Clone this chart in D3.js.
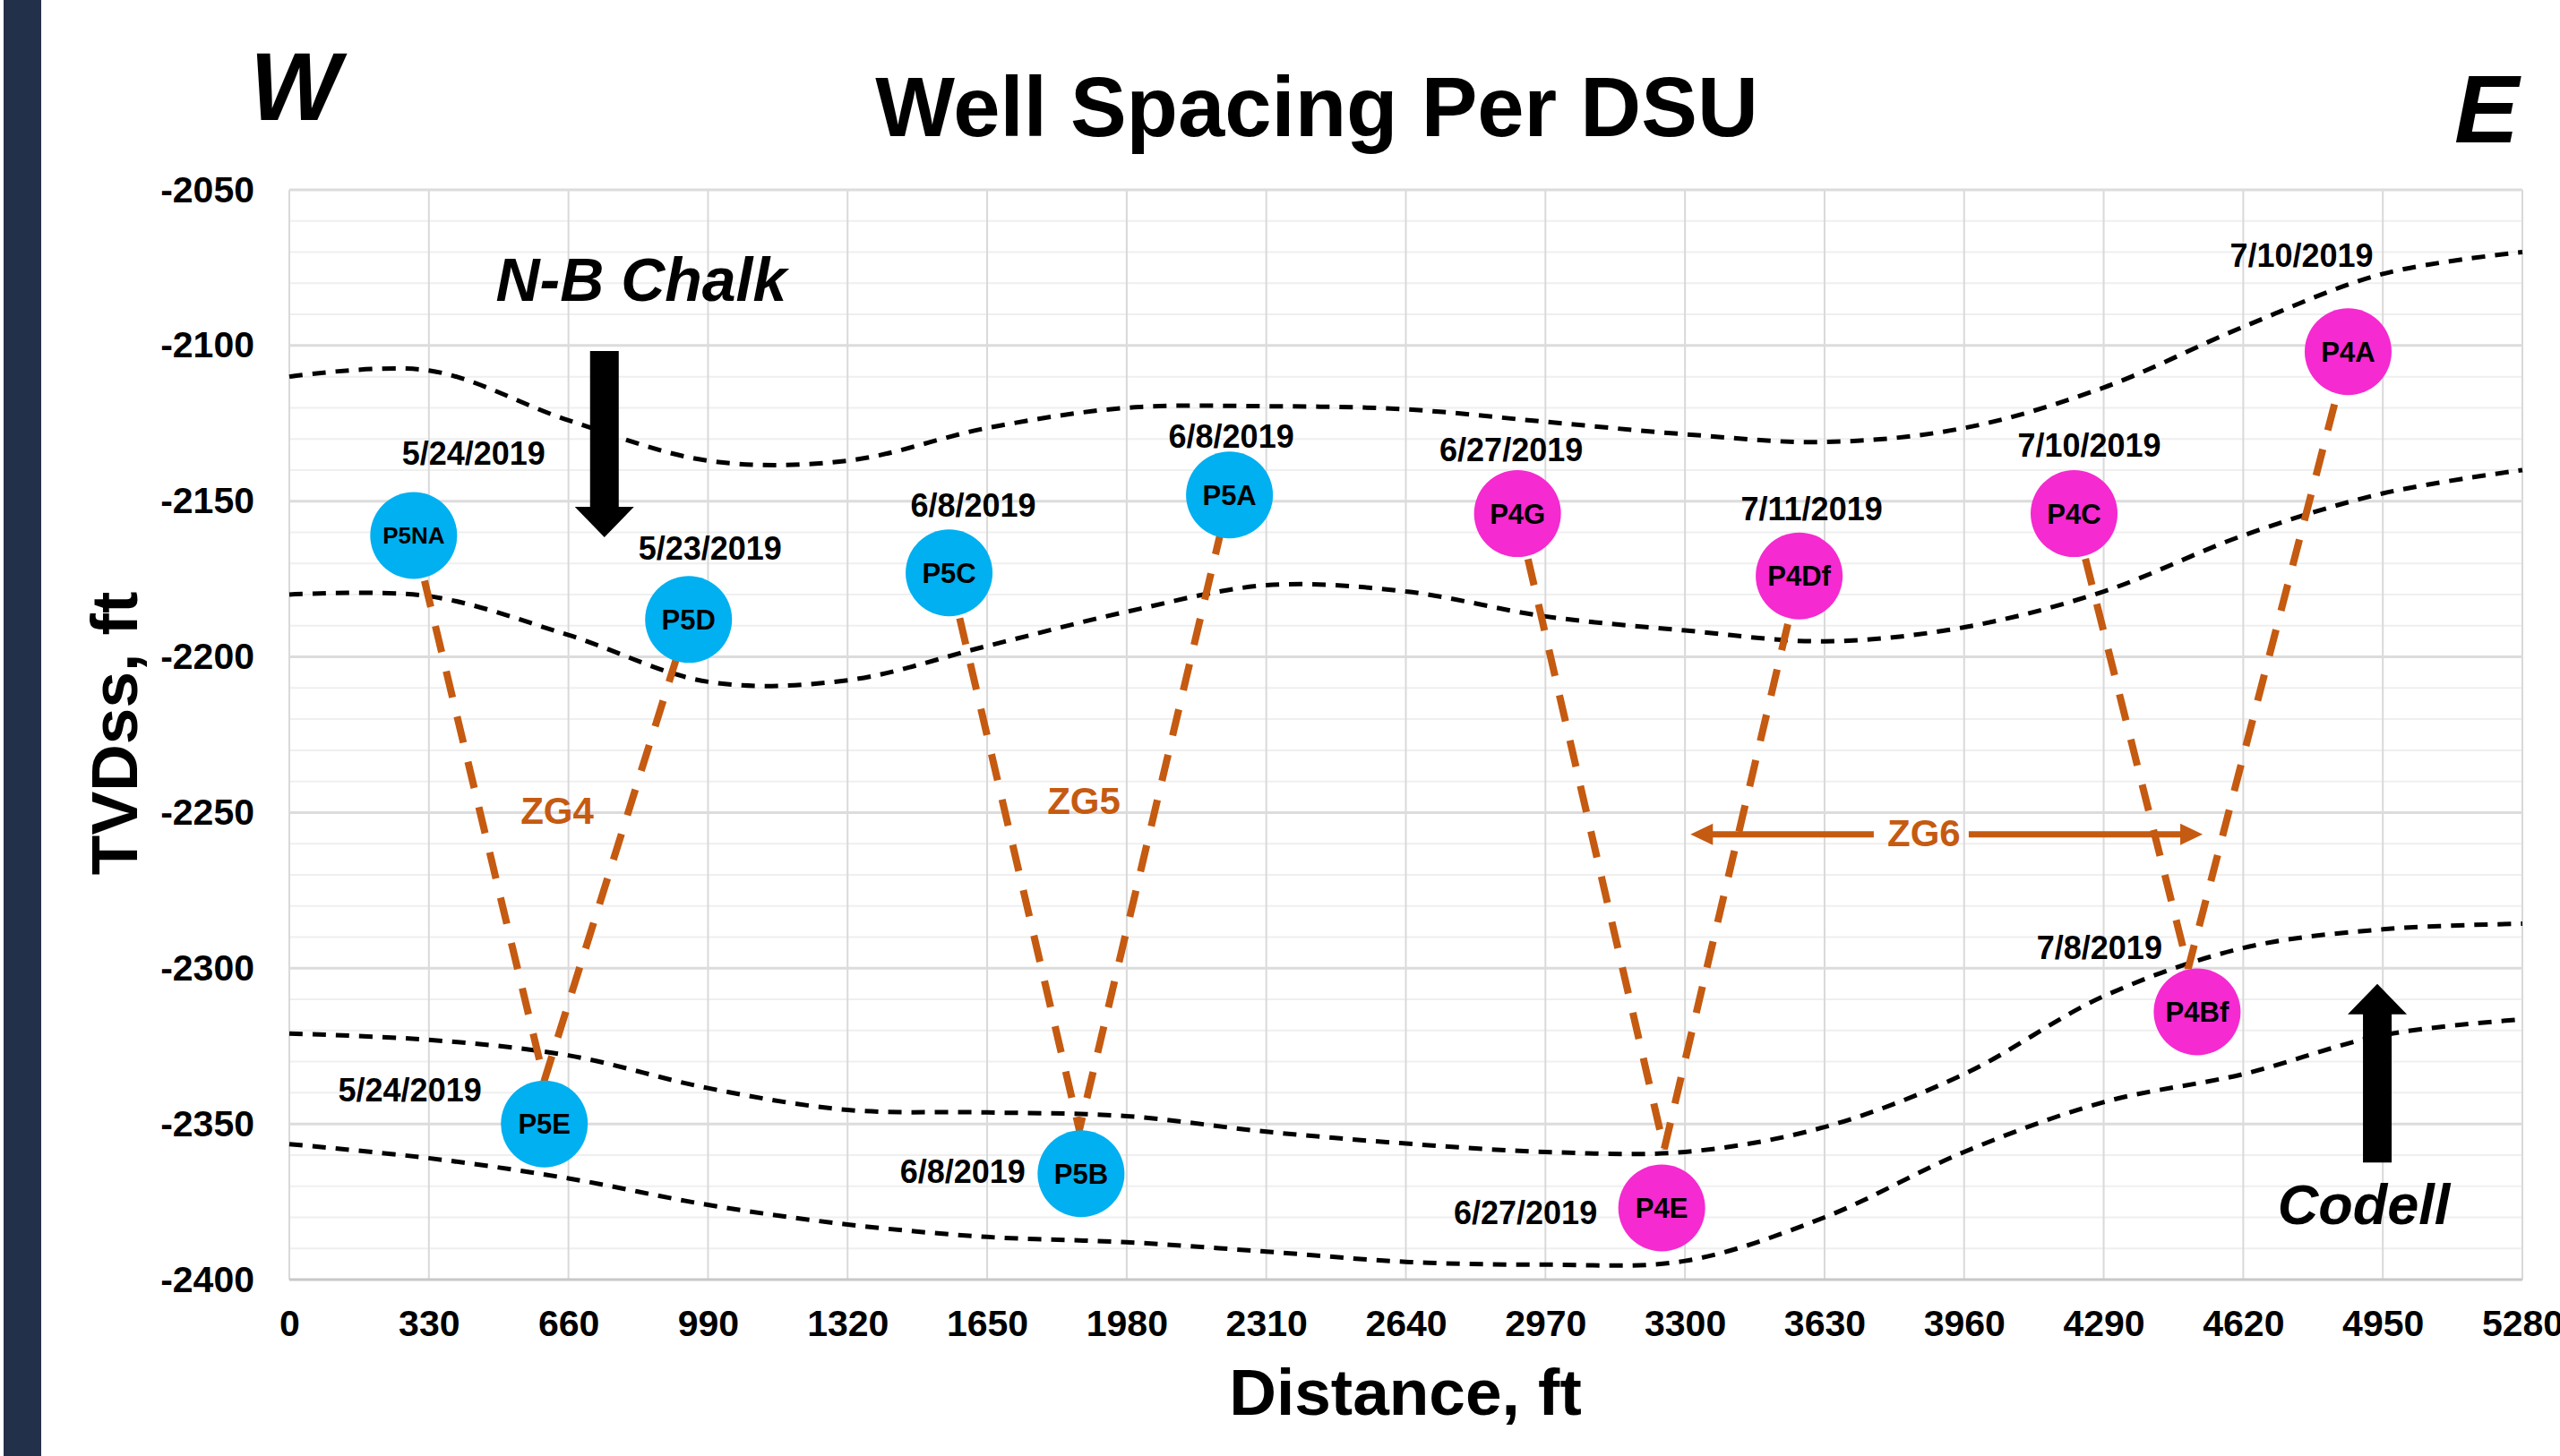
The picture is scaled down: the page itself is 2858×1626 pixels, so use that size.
<!DOCTYPE html>
<html>
<head>
<meta charset="utf-8">
<script src="https://cdn.jsdelivr.net/npm/d3@7"></script>
<style>
  body { margin: 0; background: #ffffff; }
  text { font-family: "Liberation Sans", Arial, sans-serif; font-weight: bold; }
</style>
</head>
<body>
<div id="chart"></div>
<script>

// Axis ticks
var xTicks = [0, 330, 660, 990, 1320, 1650, 1980, 2310, 2640, 2970, 3300, 3630, 3960, 4290, 4620, 4950, 5280];
var yTicks = [-2050, -2100, -2150, -2200, -2250, -2300, -2350, -2400];

// Wells (distance ft, TVDss ft)
var wellNames = ["P5NA", "P5E", "P5D", "P5C", "P5B", "P5A", "P4G", "P4E", "P4Df", "P4C", "P4Bf", "P4A"];
var wellX = [294, 603, 944, 1560, 1872, 2223, 2904, 3245, 3570, 4220, 4511, 4868];
var wellY = [-2161, -2350, -2188, -2173, -2366, -2148, -2154, -2377, -2174, -2154, -2314, -2102];
var wellDates = ["5/24/2019", "5/24/2019", "5/23/2019", "6/8/2019", "6/8/2019", "6/8/2019",
                 "6/27/2019", "6/27/2019", "7/11/2019", "7/10/2019", "7/8/2019", "7/10/2019"];
var wellPad = [5, 5, 5, 5, 5, 5, 4, 4, 4, 4, 4, 4];

// Formation tops, read every 330 ft
var horizonX = [0, 330, 660, 990, 1320, 1650, 1980, 2310, 2640, 2970, 3300, 3630, 3960, 4290, 4620, 4950, 5280];
var nbChalkTop = [-2110, -2108, -2124, -2137, -2137, -2126.5, -2120, -2119.5, -2120.5, -2124.5, -2128.5, -2131, -2126.5, -2113.5, -2094, -2077, -2070];
var nbChalkBase = [-2180, -2180.5, -2193, -2208, -2207.5, -2196.5, -2185.5, -2177, -2179, -2187, -2191.5, -2195, -2190.5, -2179, -2161, -2147.5, -2140];
var codellTop = [-2321, -2323, -2328, -2338.5, -2345.5, -2346.3, -2347.5, -2352.5, -2356.3, -2359, -2359, -2351, -2334, -2309, -2293.5, -2287.5, -2285.7];
var codellBase = [-2356.5, -2361, -2367.5, -2376, -2382.3, -2386.3, -2388, -2391, -2394.3, -2395.2, -2394, -2380, -2359, -2343, -2334, -2321.5, -2316.4];

// Zipper groups: upper well -> lower point -> upper well
var zipFrom = ["P5NA", "P5C", "P4G", "P4C"];
var zipTo = ["P5D", "P5A", "P4Df", "P4A"];
var zipLowX = [603, 1868, 3251, 4490];
var zipLowY = [-2336, -2352, -2358, -2300];

// Placement of the date labels relative to each bubble [dx, dy, anchor]
var dateOffsets = [[67, -79, "middle"], [-70, -25, "end"], [24, -67, "middle"], [27, -63, "middle"],
                   [-62, 10, "end"], [2, -53, "middle"], [-7, -59, "middle"], [-72, 18, "end"],
                   [14, -62, "middle"], [17, -64, "middle"], [-39, -59, "end"], [-52, -95, "middle"]];

var padColors = { 5: "#00b0f0", 4: "#f52ad0" };
var orange = "#c55a11";

var width = 2858, height = 1626;

var svg = d3.select("#chart").append("svg")
    .attr("width", width)
    .attr("height", height);

svg.append("rect").attr("width", width).attr("height", height).attr("fill", "#ffffff");

// dark strip on the left of the slide
svg.append("rect").attr("x", 4).attr("y", 0).attr("width", 42).attr("height", height).attr("fill", "#233049");

var x = d3.scaleLinear().domain([0, 5280]).range([323, 2816]);
var y = d3.scaleLinear().domain([-2400, -2050]).range([1429, 212]);

// Gridlines
var grid = svg.append("g");
grid.selectAll(".minor")
    .data(d3.range(-2400, -2049, 10).filter(function(d) { return d % 50 !== 0; }))
    .enter().append("line")
    .attr("x1", x(0)).attr("x2", x(5280))
    .attr("y1", function(d) { return y(d); }).attr("y2", function(d) { return y(d); })
    .attr("stroke", "#efefef").attr("stroke-width", 2);

grid.selectAll(".vert")
    .data(xTicks)
    .enter().append("line")
    .attr("x1", function(d) { return x(d); }).attr("x2", function(d) { return x(d); })
    .attr("y1", y(-2050)).attr("y2", y(-2400))
    .attr("stroke", "#d9d9d9").attr("stroke-width", 2);

grid.selectAll(".major")
    .data(yTicks)
    .enter().append("line")
    .attr("x1", x(0)).attr("x2", x(5280))
    .attr("y1", function(d) { return y(d); }).attr("y2", function(d) { return y(d); })
    .attr("stroke", function(d) { return d === -2400 ? "#c8c8c8" : "#dcdcdc"; })
    .attr("stroke-width", 3);

// Axes (plain hyphen, no thousands separator)
var plain = function(d) { return String(d); };
var yAxis = svg.append("g")
    .attr("transform", "translate(" + x(0) + ",0)")
    .call(d3.axisLeft(y).tickValues(yTicks).tickFormat(plain).tickSize(0).tickPadding(39));
var xAxis = svg.append("g")
    .attr("transform", "translate(0," + y(-2400) + ")")
    .call(d3.axisBottom(x).tickValues(xTicks).tickFormat(plain).tickSize(0).tickPadding(34));
[yAxis, xAxis].forEach(function(a) {
    a.select(".domain").remove();
    a.selectAll("text")
        .attr("font-family", "Liberation Sans, Arial, sans-serif")
        .attr("font-size", 41)
        .attr("font-weight", "bold")
        .attr("fill", "#000");
});

// Formation boundaries
var horizon = d3.line()
    .x(function(d) { return x(d[0]); })
    .y(function(d) { return y(d[1]); })
    .curve(d3.curveCatmullRom.alpha(0.5));

[nbChalkTop, nbChalkBase, codellTop, codellBase].forEach(function(series) {
    svg.append("path")
        .datum(horizonX.map(function(h, i) { return [h, series[i]]; }))
        .attr("d", horizon)
        .attr("fill", "none")
        .attr("stroke", "#000")
        .attr("stroke-width", 5)
        .attr("stroke-dasharray", "15,11");
});

// Zipper V lines
function wellAt(name) {
    var i = wellNames.indexOf(name);
    return [wellX[i], wellY[i]];
}
var zipLine = d3.line()
    .x(function(d) { return x(d[0]); })
    .y(function(d) { return y(d[1]); });

zipFrom.forEach(function(from, i) {
    svg.append("path")
        .datum([wellAt(from), [zipLowX[i], zipLowY[i]], wellAt(zipTo[i])])
        .attr("d", zipLine)
        .attr("fill", "none")
        .attr("stroke", orange)
        .attr("stroke-width", 8)
        .attr("stroke-dasharray", "30,22");
});

// Wells
var wells = svg.selectAll(".well")
    .data(wellNames)
    .enter().append("g")
    .attr("transform", function(d, i) { return "translate(" + x(wellX[i]) + "," + y(wellY[i]) + ")"; });

wells.append("circle")
    .attr("r", 48.5)
    .attr("fill", function(d, i) { return padColors[wellPad[i]]; });

wells.append("text")
    .attr("text-anchor", "middle")
    .attr("dy", "0.36em")
    .attr("font-size", function(d) { return d === "P5NA" ? 26 : 31; })
    .text(function(d) { return d; });

wells.append("text")
    .attr("x", function(d, i) { return dateOffsets[i][0]; })
    .attr("y", function(d, i) { return dateOffsets[i][1]; })
    .attr("text-anchor", function(d, i) { return dateOffsets[i][2]; })
    .attr("font-size", 36)
    .text(function(d, i) { return wellDates[i]; });

// Zone labels
var zoneLabels = [["ZG4", 622, 920], ["ZG5", 1210, 909]];
zoneLabels.forEach(function(z) {
    svg.append("text")
        .attr("x", z[1]).attr("y", z[2])
        .attr("text-anchor", "middle")
        .attr("font-size", 42)
        .attr("fill", orange)
        .text(z[0]);
});

// ZG6 double arrow
var zgY = y(-2257), zgLeft = x(3313), zgRight = x(4524), zgMid = x(3865);
svg.append("text")
    .attr("x", zgMid).attr("y", zgY + 13)
    .attr("text-anchor", "middle")
    .attr("font-size", 42)
    .attr("fill", orange)
    .text("ZG6");
svg.append("line").attr("x1", zgLeft + 20).attr("x2", zgMid - 56).attr("y1", zgY).attr("y2", zgY)
    .attr("stroke", orange).attr("stroke-width", 7);
svg.append("line").attr("x1", zgMid + 50).attr("x2", zgRight - 20).attr("y1", zgY).attr("y2", zgY)
    .attr("stroke", orange).attr("stroke-width", 7);
svg.append("path").attr("d", "M" + zgLeft + "," + zgY + "l25,-12v24z").attr("fill", orange);
svg.append("path").attr("d", "M" + zgRight + "," + zgY + "l-25,-12v24z").attr("fill", orange);

// Block arrows pointing at the targets
function blockArrow(cx, yTail, yTip) {
    var dir = yTip > yTail ? 1 : -1;
    var headBase = yTip - dir * 34;
    var p = d3.path();
    p.moveTo(cx - 16, yTail);
    p.lineTo(cx + 16, yTail);
    p.lineTo(cx + 16, headBase);
    p.lineTo(cx + 33, headBase);
    p.lineTo(cx, yTip);
    p.lineTo(cx - 33, headBase);
    p.lineTo(cx - 16, headBase);
    p.closePath();
    svg.append("path").attr("d", p.toString()).attr("fill", "#000");
}
blockArrow(x(745), y(-2101.8), y(-2161.6));
blockArrow(x(4937), y(-2362.4), y(-2305));

svg.append("text")
    .attr("x", x(488)).attr("y", y(-2085.7))
    .attr("font-size", 68)
    .attr("font-style", "italic")
    .text("N-B Chalk");

svg.append("text")
    .attr("x", x(4905)).attr("y", y(-2382.2))
    .attr("text-anchor", "middle")
    .attr("font-family", "Lato, sans-serif")
    .attr("font-size", 63)
    .attr("font-style", "italic")
    .text("Codell");

// Titles
svg.append("text")
    .attr("x", 1470).attr("y", 152)
    .attr("text-anchor", "middle")
    .attr("font-size", 94)
    .text("Well Spacing Per DSU");

svg.append("text")
    .attr("x", 279).attr("y", 134)
    .attr("font-size", 107)
    .attr("font-style", "italic")
    .text("W");

svg.append("text")
    .attr("x", 2740).attr("y", 159)
    .attr("font-size", 108)
    .attr("font-style", "italic")
    .text("E");

svg.append("text")
    .attr("transform", "translate(153,819) rotate(-90)")
    .attr("text-anchor", "middle")
    .attr("font-size", 73)
    .text("TVDss, ft");

svg.append("text")
    .attr("x", 1569).attr("y", 1580)
    .attr("text-anchor", "middle")
    .attr("font-size", 73)
    .text("Distance, ft");

</script>
</body>
</html>
